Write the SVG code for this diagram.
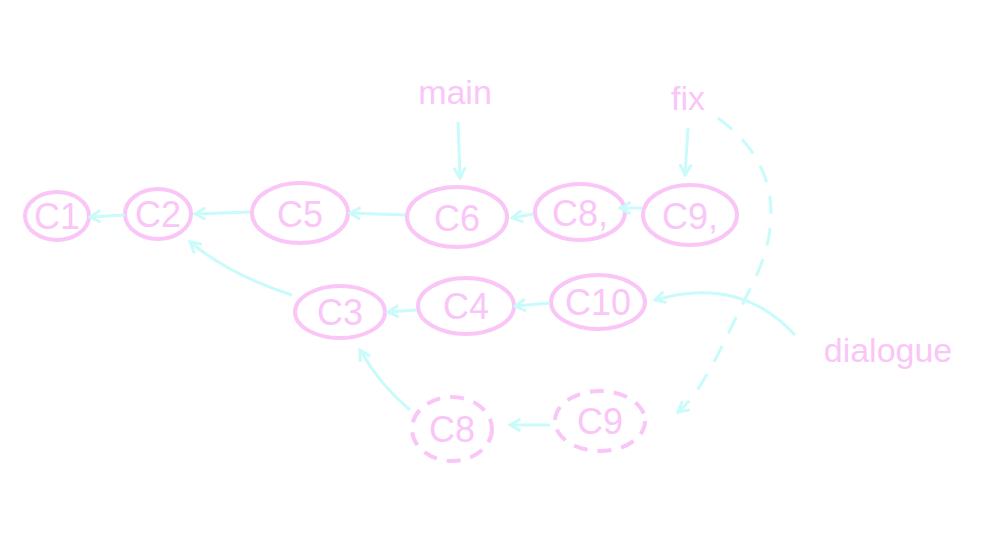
<svg xmlns="http://www.w3.org/2000/svg" width="1000" height="559" viewBox="0 0 1000 559">
<style>
.n{fill:none;stroke:#f9c6f7;stroke-width:4}
.d{stroke-dasharray:14 10}
.t{font-family:"Comic Sans MS","Liberation Sans",sans-serif;fill:#f9c6f7;font-size:36px;text-anchor:middle}
.l{font-size:34px}
.c{fill:none;stroke:#c9fbfb;stroke-width:3;marker-end:url(#a)}
</style>
<defs><marker id="a" viewBox="0 0 12 12" refX="10" refY="6" markerWidth="14" markerHeight="14" markerUnits="userSpaceOnUse" orient="auto"><path d="M1,1 L10,6 L1,11" fill="none" stroke="#c9fbfb" stroke-width="2.5"/></marker></defs>
<rect width="1000" height="559" fill="#fff"/>
<g id="C1"><ellipse class="n" cx="57" cy="216" rx="32" ry="24"/><text class="t" x="57" y="229">C1</text></g>
<g id="C2"><ellipse class="n" cx="158" cy="214" rx="33" ry="25"/><text class="t" x="158" y="227">C2</text></g>
<g id="C5"><ellipse class="n" cx="300" cy="213" rx="48" ry="30"/><text class="t" x="300" y="227">C5</text></g>
<g id="C6"><ellipse class="n" cx="457" cy="217" rx="50" ry="30"/><text class="t" x="457" y="231">C6</text></g>
<g id="C8a"><ellipse class="n" cx="580" cy="212" rx="45" ry="28"/><text class="t" x="580" y="226">C8,</text></g>
<g id="C9a"><ellipse class="n" cx="690" cy="215" rx="47" ry="30"/><text class="t" x="690" y="229">C9,</text></g>
<g id="C3"><ellipse class="n" cx="340" cy="312" rx="45" ry="26"/><text class="t" x="340" y="325">C3</text></g>
<g id="C4"><ellipse class="n" cx="466" cy="306" rx="48" ry="28"/><text class="t" x="466" y="319">C4</text></g>
<g id="C10"><ellipse class="n" cx="598" cy="302" rx="47" ry="27"/><text class="t" x="598" y="315">C10</text></g>
<g id="C8"><ellipse class="n d" cx="452" cy="429" rx="40" ry="32"/><text class="t" x="452" y="442">C8</text></g>
<g id="C9"><ellipse class="n d" cx="600" cy="421" rx="45" ry="30"/><text class="t" x="600" y="434">C9</text></g>
<g id="main"><text class="t l" x="455" y="104">main</text></g>
<g id="fix"><text class="t l" x="688" y="110">fix</text></g>
<g id="dialogue"><text class="t l" x="888" y="362">dialogue</text></g>
<g id="connectors">
<path class="c" d="M125,215 L90,217"/>
<path class="c" d="M250,212 L195,214"/>
<path class="c" d="M405,215 L350,213"/>
<path class="c" d="M533,214 L512,218"/>
<path class="c" d="M642,208 L620,208"/>
<path class="c" d="M292,295 Q230,275 190,242"/>
<path class="c" d="M417,310 L388,312"/>
<path class="c" d="M550,303 L515,306"/>
<path class="c" d="M410,410 Q380,385 360,350"/>
<path class="c" d="M550,425 L510,425"/>
<path class="c" d="M458,122 L460,178"/>
<path class="c" d="M688,128 L685,175"/>
<path class="c" d="M795,335 Q740,275 655,300"/>
<path class="c" stroke-dasharray="18 14" d="M718,118 C790,170 775,240 752,285 S705,390 678,412"/>
</g>
</svg>
